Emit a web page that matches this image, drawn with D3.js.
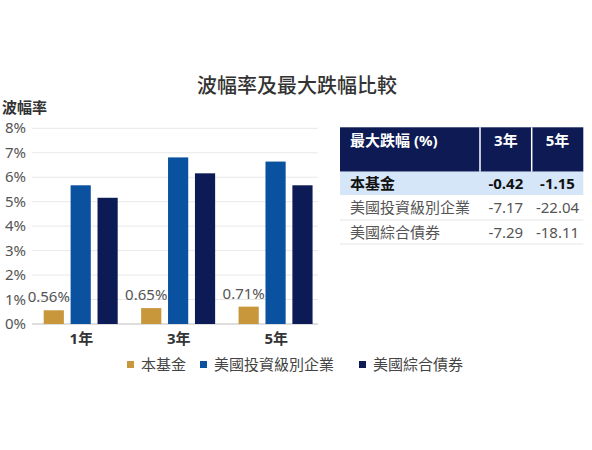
<!DOCTYPE html>
<html>
<head>
<meta charset="utf-8">
<script src="https://cdn.jsdelivr.net/npm/d3@7"></script>
<style>
  body { margin: 0; background: #fff; }
  svg { display: block; font-family: "Noto Sans", "Noto Sans CJK TC", sans-serif; }
</style>
</head>
<body>
<div id="chart"></div>
<script>
// chart data
var periods = ["1年", "3年", "5年"];
var seriesNames = ["本基金", "美國投資級別企業", "美國綜合債券"];
var fundVol = [0.56, 0.65, 0.71];
var corpVol = [5.67, 6.81, 6.64];
var aggVol = [5.16, 6.16, 5.67];
var yTicks = [0, 1, 2, 3, 4, 5, 6, 7, 8];

// drawdown table
var tableHeader = ["最大跌幅 (%)", "3年", "5年"];
var tableRows = ["本基金", "美國投資級別企業", "美國綜合債券"];
var dd3 = ["-0.42", "-7.17", "-7.29"];
var dd5 = ["-1.15", "-22.04", "-18.11"];

var colors = ["#c8973b", "#0a519f", "#0c1b55"];

var svg = d3.select("#chart").append("svg")
    .attr("width", 592)
    .attr("height", 450);

svg.append("text")
    .attr("x", 297).attr("y", 93)
    .attr("text-anchor", "middle")
    .style("font-size", "20px")
    .style("font-weight", 500)
    .style("fill", "#333")
    .text("波幅率及最大跌幅比較");

var x = d3.scaleBand().domain(periods).range([31.7, 324]).paddingInner(0).paddingOuter(0);
var x1 = d3.scaleBand().domain(d3.range(3)).range([12, 86]).paddingInner(0.25);
var y = d3.scaleLinear().domain([0, 8]).range([324, 128.3]);

// gridlines
svg.append("g").selectAll("line")
    .data(yTicks.slice(1))
    .enter().append("line")
    .attr("x1", 32).attr("x2", 318)
    .attr("y1", function (d) { return y(d); })
    .attr("y2", function (d) { return y(d); })
    .style("stroke", "#e8e8e8")
    .style("stroke-width", 1);

svg.append("line")
    .attr("x1", 32).attr("x2", 318)
    .attr("y1", y(0)).attr("y2", y(0))
    .style("stroke", "#bdbdbd");

svg.append("g").selectAll("text")
    .data(yTicks)
    .enter().append("text")
    .attr("x", 26)
    .attr("y", function (d) { return y(d) + 5; })
    .attr("text-anchor", "end")
    .style("font-size", "15px")
    .style("fill", "#555")
    .text(function (d) { return d + "%"; });

svg.append("text")
    .attr("x", 2).attr("y", 113)
    .style("font-size", "15px")
    .style("font-weight", 700)
    .style("fill", "#333")
    .text("波幅率");

// bars
var allSeries = [fundVol, corpVol, aggVol];
var groups = svg.append("g").selectAll("g")
    .data(periods)
    .enter().append("g")
    .attr("transform", function (d) { return "translate(" + x(d) + ",0)"; });

groups.selectAll("rect")
    .data(function (d, i) { return allSeries.map(function (s, k) { return { k: k, v: s[i] }; }); })
    .enter().append("rect")
    .attr("x", function (d) { return x1(d.k); })
    .attr("width", x1.bandwidth())
    .attr("y", function (d) { return y(d.v); })
    .attr("height", function (d) { return y(0) - y(d.v); })
    .style("fill", function (d) { return colors[d.k]; });

groups.append("text")
    .attr("x", function (d) { return x1(0) + x1.bandwidth() / 2 - 5; })
    .attr("y", function (d, i) { return y(fundVol[i]) - 8; })
    .attr("text-anchor", "middle")
    .style("font-size", "15px")
    .style("fill", "#555")
    .text(function (d, i) { return fundVol[i].toFixed(2) + "%"; });

groups.append("text")
    .attr("x", x.bandwidth() / 2 + 1)
    .attr("y", 344)
    .attr("text-anchor", "middle")
    .style("font-size", "15px")
    .style("font-weight", 700)
    .style("fill", "#333")
    .text(function (d) { return d; });

// legend
var legendX = [127, 200, 359];
var legend = svg.append("g").selectAll("g")
    .data(seriesNames)
    .enter().append("g")
    .attr("transform", function (d, i) { return "translate(" + legendX[i] + ",365)"; });
legend.append("rect")
    .attr("x", 0).attr("y", -4).attr("width", 7).attr("height", 7)
    .style("fill", function (d, i) { return colors[i]; });
legend.append("text")
    .attr("x", 14).attr("y", 5)
    .style("font-size", "15px")
    .style("fill", "#444")
    .text(function (d) { return d; });

// table
var colX = [340, 480, 531.7, 583.3];
var tbl = svg.append("g");
tbl.append("rect")
    .attr("x", colX[0]).attr("y", 127.3)
    .attr("width", colX[3] - colX[0]).attr("height", 44.4)
    .style("fill", "#0d1a53");
[1, 2].forEach(function (c) {
  tbl.append("line")
      .attr("x1", colX[c]).attr("x2", colX[c])
      .attr("y1", 127.3).attr("y2", 171.7)
      .style("stroke", "#fff").style("stroke-width", 1.5);
});
tbl.selectAll("text.head")
    .data(tableHeader)
    .enter().append("text")
    .attr("class", "head")
    .attr("x", function (d, i) { return i === 0 ? 350 : (colX[i] + colX[i + 1]) / 2; })
    .attr("y", 146)
    .attr("text-anchor", function (d, i) { return i === 0 ? "start" : "middle"; })
    .style("font-size", "15px")
    .style("font-weight", 700)
    .style("fill", "#fff")
    .text(function (d) { return d; });

var rowTop = [171.7, 195, 220];
var rowH = 24;
tbl.append("rect")
    .attr("x", colX[0]).attr("y", rowTop[0])
    .attr("width", colX[3] - colX[0]).attr("height", rowTop[1] - rowTop[0])
    .style("fill", "#d5e6f8");
[rowTop[2], rowTop[2] + rowH].forEach(function (yy) {
  tbl.append("line")
      .attr("x1", colX[0]).attr("x2", colX[3])
      .attr("y1", yy).attr("y2", yy)
      .style("stroke", "#e6e6e6");
});

var rows = tbl.selectAll("g.row")
    .data(tableRows)
    .enter().append("g")
    .attr("class", "row")
    .attr("transform", function (d, i) { return "translate(0," + (i === 0 ? 188.5 : rowTop[i] + 18) + ")"; });
rows.append("text")
    .attr("x", 350)
    .style("font-size", "15px")
    .style("font-weight", function (d, i) { return i === 0 ? 700 : 400; })
    .style("fill", function (d, i) { return i === 0 ? "#111" : "#555"; })
    .text(function (d) { return d; });
rows.append("text")
    .attr("x", (colX[1] + colX[2]) / 2)
    .attr("text-anchor", "middle")
    .style("font-size", "15px")
    .style("font-weight", function (d, i) { return i === 0 ? 700 : 400; })
    .style("fill", function (d, i) { return i === 0 ? "#111" : "#555"; })
    .text(function (d, i) { return dd3[i]; });
rows.append("text")
    .attr("x", (colX[2] + colX[3]) / 2)
    .attr("text-anchor", "middle")
    .style("font-size", "15px")
    .style("font-weight", function (d, i) { return i === 0 ? 700 : 400; })
    .style("fill", function (d, i) { return i === 0 ? "#111" : "#555"; })
    .text(function (d, i) { return dd5[i]; });
</script>
</body>
</html>
